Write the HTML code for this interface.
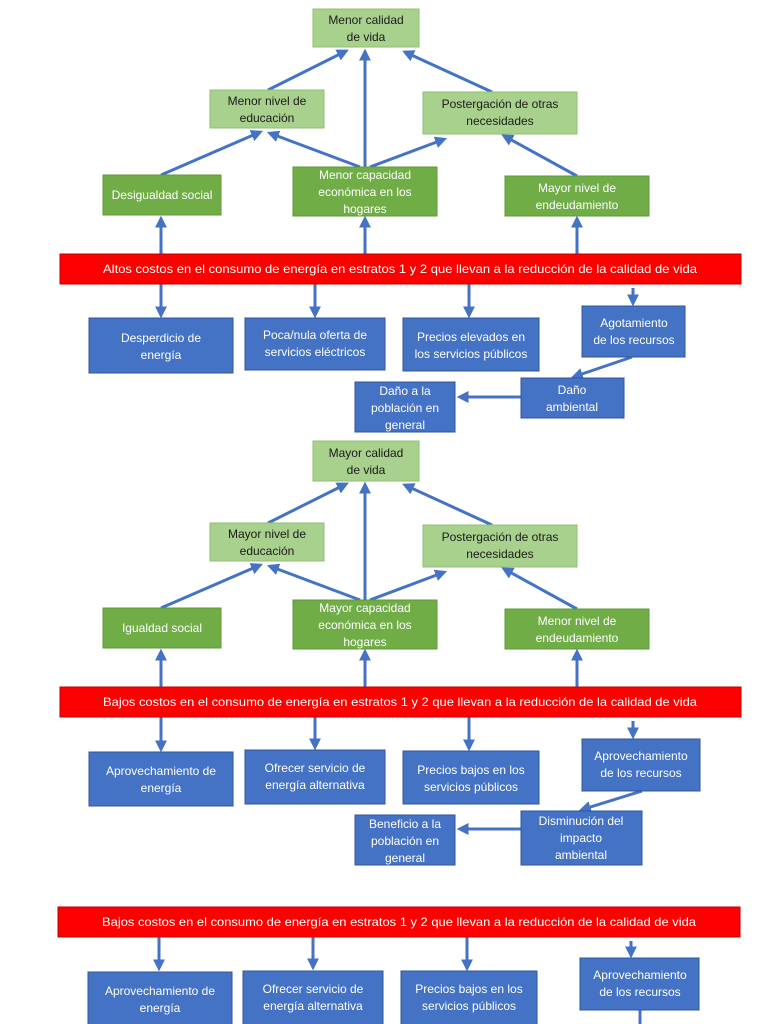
<!DOCTYPE html>
<html><head><meta charset="utf-8"><style>
html,body{margin:0;padding:0;background:#fff;}
svg{display:block;font-family:"Liberation Sans",sans-serif;font-size:12px;}
.lg{fill:#a9d18e;stroke:#8fbf72;stroke-width:1}
.dg{fill:#70ad47;stroke:#5e9a3a;stroke-width:1}
.bl{fill:#4472c4;stroke:#2f5597;stroke-width:1}
.rd{fill:#ff0000;stroke:#c00000;stroke-width:1}
.k{fill:#1a1a1a;text-anchor:middle}
.w{fill:#fff;text-anchor:middle}
.a{stroke:#4472c4;stroke-width:3;fill:none;marker-end:url(#ah)}
</style></head><body>
<svg width="768" height="1024" viewBox="0 0 768 1024">
<defs><marker id="ah" markerWidth="4" markerHeight="4" refX="2.2" refY="2" orient="auto"><path d="M0,0 L4,2 L0,4 z" fill="#4472c4"/></marker></defs>

<!-- DIAGRAM 1 -->
<g>
<line class="a" x1="161" y1="175" x2="258" y2="133"/>
<line class="a" x1="268" y1="90" x2="344" y2="52"/>
<line class="a" x1="365" y1="167" x2="365" y2="54"/>
<line class="a" x1="360" y1="167" x2="272" y2="134"/>
<line class="a" x1="370" y1="167" x2="442" y2="140"/>
<line class="a" x1="492" y1="92" x2="407" y2="53"/>
<line class="a" x1="577" y1="176" x2="506" y2="137"/>
<line class="a" x1="161" y1="254" x2="161" y2="221"/>
<line class="a" x1="365" y1="254" x2="365" y2="221"/>
<line class="a" x1="577" y1="254" x2="577" y2="221"/>
<line class="a" x1="161" y1="284" x2="161" y2="313"/>
<line class="a" x1="315" y1="284" x2="315" y2="313"/>
<line class="a" x1="469" y1="284" x2="469" y2="313"/>
<line class="a" x1="633" y1="288" x2="633" y2="301"/>
<line class="a" x1="632" y1="357" x2="576" y2="376"/>
<line class="a" x1="521" y1="397" x2="462" y2="397"/>

<rect class="lg" x="313" y="9" width="106" height="38"/>
<text class="k" x="366" y="24">Menor calidad</text><text class="k" x="366" y="41">de vida</text>
<rect class="lg" x="210" y="90" width="114" height="38"/>
<text class="k" x="267" y="105">Menor nivel de</text><text class="k" x="267" y="122">educación</text>
<rect class="lg" x="423" y="92" width="154" height="42"/>
<text class="k" x="500" y="108">Postergación de otras</text><text class="k" x="500" y="125">necesidades</text>
<rect class="dg" x="103" y="175" width="118" height="40"/>
<text class="w" x="162" y="199">Desigualdad social</text>
<rect class="dg" x="293" y="167" width="144" height="49"/>
<text class="w" x="365" y="179">Menor capacidad</text><text class="w" x="365" y="196">económica en los</text><text class="w" x="365" y="213">hogares</text>
<rect class="dg" x="505" y="176" width="144" height="40"/>
<text class="w" x="577" y="192">Mayor nivel de</text><text class="w" x="577" y="209">endeudamiento</text>
<rect class="rd" x="60" y="254" width="681" height="30"/>
<text class="w" x="400" y="273" textLength="594" lengthAdjust="spacingAndGlyphs">Altos costos en el consumo de energía en estratos 1 y 2 que llevan a la reducción de la calidad de vida</text>
<rect class="bl" x="89" y="318" width="144" height="55"/>
<text class="w" x="161" y="342">Desperdicio de</text><text class="w" x="161" y="359">energía</text>
<rect class="bl" x="245" y="318" width="140" height="52"/>
<text class="w" x="315" y="339">Poca/nula oferta de</text><text class="w" x="315" y="356">servicios eléctricos</text>
<rect class="bl" x="403" y="318" width="136" height="53"/>
<text class="w" x="471" y="341">Precios elevados en</text><text class="w" x="471" y="358">los servicios públicos</text>
<rect class="bl" x="582" y="306" width="103" height="51"/>
<text class="w" x="634" y="327">Agotamiento</text><text class="w" x="634" y="344">de los recursos</text>
<rect class="bl" x="521" y="378" width="103" height="40"/>
<text class="w" x="572" y="394">Daño</text><text class="w" x="572" y="411">ambiental</text>
<rect class="bl" x="355" y="382" width="100" height="50"/>
<text class="w" x="405" y="395">Daño a la</text><text class="w" x="405" y="412">población en</text><text class="w" x="405" y="429">general</text>
</g>

<!-- DIAGRAM 2 -->
<g transform="translate(0,433)">
<line class="a" x1="161" y1="175" x2="258" y2="133"/>
<line class="a" x1="268" y1="90" x2="344" y2="52"/>
<line class="a" x1="365" y1="167" x2="365" y2="54"/>
<line class="a" x1="360" y1="167" x2="272" y2="134"/>
<line class="a" x1="370" y1="167" x2="442" y2="140"/>
<line class="a" x1="492" y1="92" x2="407" y2="53"/>
<line class="a" x1="577" y1="176" x2="506" y2="137"/>
<line class="a" x1="161" y1="254" x2="161" y2="221"/>
<line class="a" x1="365" y1="254" x2="365" y2="221"/>
<line class="a" x1="577" y1="254" x2="577" y2="221"/>
<line class="a" x1="161" y1="284" x2="161" y2="314"/>
<line class="a" x1="315" y1="284" x2="315" y2="312"/>
<line class="a" x1="469" y1="284" x2="469" y2="313"/>
<line class="a" x1="633" y1="288" x2="633" y2="301"/>
<line class="a" x1="642" y1="358" x2="584" y2="376"/>
<line class="a" x1="521" y1="396" x2="462" y2="396"/>

<rect class="lg" x="313" y="8" width="106" height="40"/>
<text class="k" x="366" y="24">Mayor calidad</text><text class="k" x="366" y="41">de vida</text>
<rect class="lg" x="210" y="90" width="114" height="38"/>
<text class="k" x="267" y="105">Mayor nivel de</text><text class="k" x="267" y="122">educación</text>
<rect class="lg" x="423" y="92" width="154" height="42"/>
<text class="k" x="500" y="108">Postergación de otras</text><text class="k" x="500" y="125">necesidades</text>
<rect class="dg" x="103" y="175" width="118" height="40"/>
<text class="w" x="162" y="199">Igualdad social</text>
<rect class="dg" x="293" y="167" width="144" height="49"/>
<text class="w" x="365" y="179">Mayor capacidad</text><text class="w" x="365" y="196">económica en los</text><text class="w" x="365" y="213">hogares</text>
<rect class="dg" x="505" y="176" width="144" height="40"/>
<text class="w" x="577" y="192">Menor nivel de</text><text class="w" x="577" y="209">endeudamiento</text>
<rect class="rd" x="60" y="254" width="681" height="30"/>
<text class="w" x="400" y="273" textLength="594" lengthAdjust="spacingAndGlyphs">Bajos costos en el consumo de energía en estratos 1 y 2 que llevan a la reducción de la calidad de vida</text>
<rect class="bl" x="89" y="319" width="144" height="54"/>
<text class="w" x="161" y="342">Aprovechamiento de</text><text class="w" x="161" y="359">energía</text>
<rect class="bl" x="245" y="317" width="140" height="54"/>
<text class="w" x="315" y="339">Ofrecer servicio de</text><text class="w" x="315" y="356">energía alternativa</text>
<rect class="bl" x="403" y="318" width="136" height="53"/>
<text class="w" x="471" y="341">Precios bajos en los</text><text class="w" x="471" y="358">servicios públicos</text>
<rect class="bl" x="582" y="306" width="118" height="52"/>
<text class="w" x="641" y="327">Aprovechamiento</text><text class="w" x="641" y="344">de los recursos</text>
<rect class="bl" x="521" y="378" width="121" height="54"/>
<text class="w" x="581" y="392">Disminución del</text><text class="w" x="581" y="409">impacto</text><text class="w" x="581" y="426">ambiental</text>
<rect class="bl" x="355" y="382" width="100" height="50"/>
<text class="w" x="405" y="395">Beneficio a la</text><text class="w" x="405" y="412">población en</text><text class="w" x="405" y="429">general</text>
</g>

<!-- DIAGRAM 3 (partial) -->
<g>
<line class="a" x1="159" y1="937" x2="159" y2="966"/>
<line class="a" x1="313" y1="937" x2="313" y2="965"/>
<line class="a" x1="467" y1="937" x2="467" y2="966"/>
<line class="a" x1="631" y1="941" x2="631" y2="953"/>
<line x1="640" y1="1010" x2="640" y2="1024" stroke="#4472c4" stroke-width="3"/>
<rect class="rd" x="58" y="907" width="682" height="30"/>
<text class="w" x="399" y="926" textLength="594" lengthAdjust="spacingAndGlyphs">Bajos costos en el consumo de energía en estratos 1 y 2 que llevan a la reducción de la calidad de vida</text>
<rect class="bl" x="88" y="972" width="144" height="60"/>
<text class="w" x="160" y="995">Aprovechamiento de</text><text class="w" x="160" y="1012">energía</text>
<rect class="bl" x="243" y="971" width="140" height="60"/>
<text class="w" x="313" y="993">Ofrecer servicio de</text><text class="w" x="313" y="1010">energía alternativa</text>
<rect class="bl" x="401" y="971" width="136" height="60"/>
<text class="w" x="469" y="993">Precios bajos en los</text><text class="w" x="469" y="1010">servicios públicos</text>
<rect class="bl" x="580" y="958" width="119" height="52"/>
<text class="w" x="640" y="979">Aprovechamiento</text><text class="w" x="640" y="996">de los recursos</text>
</g>
</svg>
</body></html>
